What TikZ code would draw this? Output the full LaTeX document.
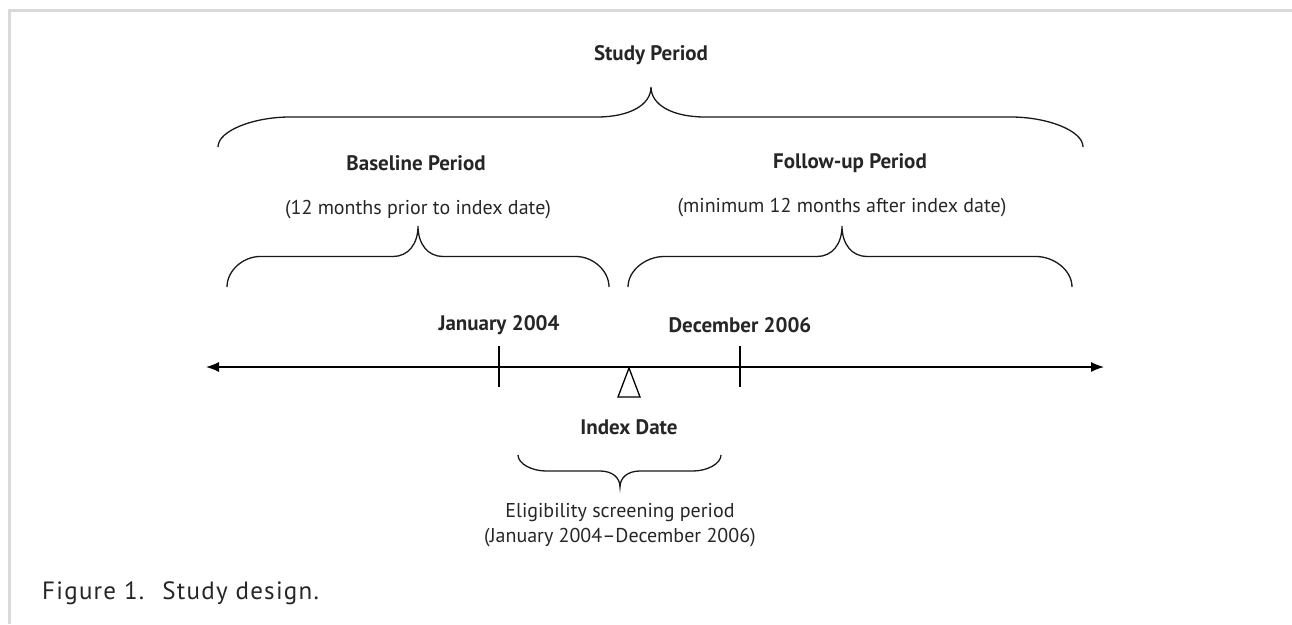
\documentclass[tikz,border=0pt]{standalone}
\usepackage{fontspec}
\setmainfont{PT Sans}
\usetikzlibrary{arrows.meta,positioning}

% curly brace: x1, x2, base y, height, end curve width, tip curve width, tip x
\newcommand{\periodbrace}[7]{%
  \draw[bracelines] (#1,#3) .. controls +(0,{-0.55*(#4)}) and +({-0.5*(#5)},0) .. ({#1+#5},{#3-#4})
    -- ({#7-#6},{#3-#4}) .. controls +({0.6*(#6)},0) and +(0,{0.6*(#4)}) .. (#7,{#3-2*(#4)})
    .. controls +(0,{0.6*(#4)}) and +({-0.6*(#6)},0) .. ({#7+#6},{#3-#4})
    -- ({#2-#5},{#3-#4}) .. controls +({0.5*(#5)},0) and +(0,{-0.55*(#4)}) .. (#2,#3);}

\begin{document}
\begin{tikzpicture}[x=1pt, y=-1pt,
    heading/.style={font=\fontsize{21}{25}\selectfont\bfseries, text=black!85},
    remark/.style={font=\fontsize{20}{25}\selectfont, text=black!85, align=center},
    bracelines/.style={line width=1.3pt, black!90},
    timeline/.style={line width=1.3pt, {Latex[length=13pt,width=10pt]}-{Latex[length=13pt,width=10pt]}},
    tick/.style={line width=1.3pt}]

    \useasboundingbox (0,0) rectangle (1292,624);

    % Frame
    \draw[black!15, line width=3pt] (9,624) -- (9,10) -- (1292,10);

    % Labels
    \node[heading] (study) at (651,55) {Study Period};
    \node[heading] (base) at (416,163) {Baseline Period};
    \node[remark] (basenote) at (418,210) {(12 months prior to index date)};
    \node[heading] (follow) at (850,163) {Follow-up Period};
    \node[remark] (follownote) at (842,208) {(minimum 12 months after index date)};
    \node[heading] (jan) at (499,325) {January 2004};
    \node[heading] (dec) at (740,325) {December 2006};
    \node[heading] (index) at (629,427) {Index Date};
    \node[remark] (screen) at (620,525) {Eligibility screening period\\(January 2004--December 2006)};
    \node[font=\fontsize{25}{29}\selectfont\addfontfeatures{LetterSpace=5}, text=black!85, anchor=west, inner sep=0pt] (caption) at (42,593) {Figure 1.\hspace{18pt}Study design.};

    % Braces
    \periodbrace{218}{1083}{147}{30}{72}{54}{651}
    \periodbrace{227}{609}{287}{30.5}{33}{25}{418}
    \periodbrace{628}{1072}{287}{30.5}{36}{25}{842}
    \periodbrace{518}{721}{455}{-16}{28}{20}{620}

    % Timeline
    \coordinate (tlleft) at (206,367);
    \coordinate (tlright) at (1104,367);
    \draw[timeline] (tlleft) -- (tlright);
    \coordinate (janup) at (499,346);
    \coordinate (jandown) at (499,387);
    \coordinate (decup) at (740,346);
    \coordinate (decdown) at (740,387);
    \draw[tick] (janup) -- (jandown);
    \draw[tick] (decup) -- (decdown);
    \draw[line width=1.3pt, fill=white] (629,368) -- (640,397) -- (618,397) -- cycle;

\end{tikzpicture}
\end{document}
